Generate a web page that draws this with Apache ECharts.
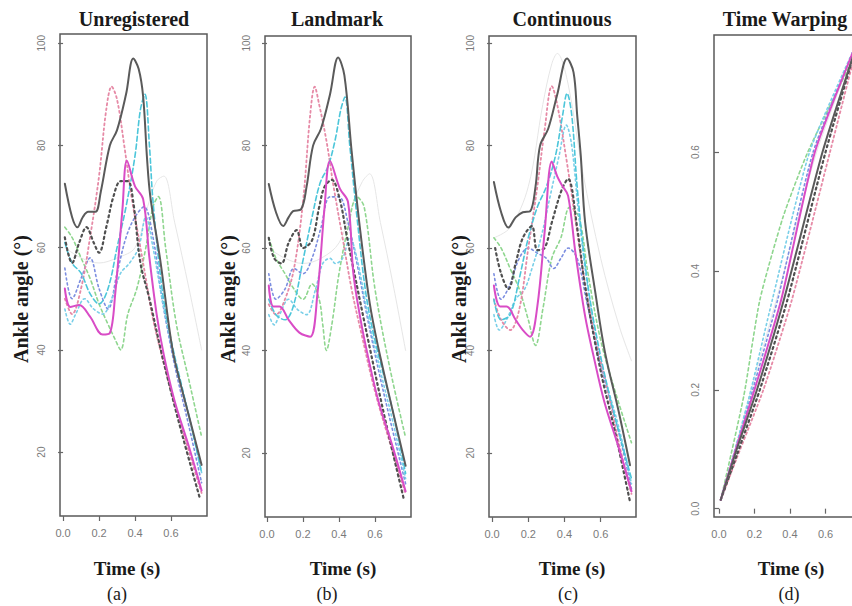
<!DOCTYPE html>
<html>
<head>
<meta charset="utf-8">
<script src="https://cdn.jsdelivr.net/npm/echarts@6/dist/echarts.min.js"></script>
<style>html,body{margin:0;padding:0;background:#fff}#c{width:852px;height:606px}</style>
</head>
<body>
<div id="c"></div>
<script>
// ---- tick labels / text ----
const xTicks = [0, 0.2, 0.4, 0.6];
const yTicksAngle = [20, 40, 60, 80, 100];
const yTicksWarp = [0, 0.2, 0.4, 0.6];
const panelTitles = ['Unregistered', 'Landmark', 'Continuous', 'Time Warping'];
const panelLetters = ['(a)', '(b)', '(c)', '(d)'];
const xName = 'Time (s)';
const yName = 'Ankle angle (°)';

// ---- (a) Unregistered : [time, angle] ----
const a_gray = [[0.01,72.5],[0.05,66],[0.08,64],[0.11,66],[0.14,67],[0.18,67],[0.21,71],[0.26,80],[0.3,83],[0.35,90],[0.39,97],[0.42,95],[0.445,89.6],[0.467,77.3],[0.485,70],[0.54,57.6],[0.594,43.3],[0.62,38],[0.7,27],[0.77,17.5]];
const a_magenta = [[0.01,52],[0.04,48.4],[0.09,48.8],[0.15,46.5],[0.22,43],[0.26,43.3],[0.29,51],[0.33,67.5],[0.355,77],[0.4,72],[0.445,69.5],[0.48,58],[0.52,47],[0.56,39],[0.62,30],[0.7,21],[0.77,12.5]];
const a_pink = [[0.01,50],[0.05,47],[0.1,52],[0.15,62],[0.2,74],[0.24,87],[0.27,91.5],[0.3,89],[0.34,80],[0.38,70],[0.42,62],[0.46,54],[0.5,46],[0.6,32],[0.7,20],[0.77,12]];
const a_cyanDash = [[0.01,61],[0.05,57],[0.1,55],[0.15,51],[0.2,49],[0.25,52],[0.3,60],[0.35,68],[0.4,78],[0.43,87],[0.455,90],[0.48,80],[0.5,69],[0.55,52],[0.6,42],[0.7,27],[0.77,16]];
const a_darkDot = [[0.01,62],[0.05,57],[0.09,61],[0.13,64],[0.17,61],[0.2,59],[0.24,64],[0.28,70],[0.32,73],[0.36,73],[0.39,69],[0.43,57],[0.48,50],[0.55,39],[0.65,25],[0.76,11]];
const a_green = [[0.01,64],[0.05,62],[0.1,58],[0.15,54],[0.2,49],[0.25,45],[0.29,42],[0.32,40],[0.36,47],[0.41,52],[0.46,60],[0.5,68],[0.53,70],[0.57,60],[0.63,45],[0.7,34],[0.77,23]];
const a_light = [[0.01,60],[0.1,58],[0.2,57],[0.3,58],[0.4,60],[0.47,68],[0.52,73],[0.56,74],[0.62,65],[0.7,52],[0.77,40]];
const a_cyanDot = [[0.01,48],[0.04,45],[0.07,47],[0.12,50],[0.17,48],[0.22,47],[0.27,50],[0.32,55],[0.37,57],[0.42,60],[0.46,66],[0.5,60],[0.55,50],[0.62,38],[0.7,27],[0.77,16]];
const a_blueDot = [[0.01,56],[0.05,50],[0.1,54],[0.15,58],[0.2,52],[0.25,48],[0.3,55],[0.35,62],[0.4,66],[0.45,68],[0.5,62],[0.55,50],[0.62,37],[0.7,25],[0.77,14]];

// ---- (b) Landmark ----
const b_gray = [[0.01,72.5],[0.05,67],[0.09,64.3],[0.12,66],[0.145,67.2],[0.19,67.6],[0.22,72],[0.256,80],[0.3,83.3],[0.35,90],[0.395,97.2],[0.43,93.7],[0.47,79],[0.515,64.3],[0.57,49.4],[0.617,40.8],[0.7,28],[0.77,17.5]];
const b_magenta = [[0.01,52.7],[0.035,48.6],[0.07,48.6],[0.12,46],[0.18,43.5],[0.24,42.7],[0.28,51],[0.32,68],[0.35,77],[0.405,71.6],[0.45,69],[0.48,55],[0.52,46],[0.56,39],[0.62,30],[0.7,21],[0.77,12.5]];
const b_pink = [[0.01,49],[0.05,47],[0.1,50],[0.15,56],[0.2,69],[0.24,86],[0.265,91.5],[0.29,88],[0.33,81],[0.37,72],[0.42,62],[0.47,52],[0.52,44],[0.6,32],[0.7,20],[0.77,12]];
const b_cyanDash = [[0.01,50],[0.05,47],[0.1,46],[0.145,48.5],[0.2,57.6],[0.25,66],[0.295,72.7],[0.34,76],[0.378,81],[0.41,87],[0.433,89.5],[0.46,80],[0.5,66],[0.55,51],[0.6,42],[0.7,28],[0.77,16]];
const b_darkDot = [[0.01,62],[0.04,58],[0.08,57],[0.12,61],[0.165,63.5],[0.2,60],[0.25,61.5],[0.29,68],[0.32,72],[0.36,73.3],[0.405,69.4],[0.44,63],[0.48,56],[0.57,40.7],[0.66,26],[0.76,11]];
const b_green = [[0.01,62],[0.05,58],[0.1,55],[0.15,52],[0.2,50],[0.25,53],[0.29,50],[0.31,45],[0.33,40],[0.36,45],[0.4,55],[0.45,64],[0.5,70],[0.54,68],[0.6,52],[0.68,37],[0.77,23]];
const b_light = [[0.01,60],[0.1,58],[0.2,57],[0.3,58],[0.4,61],[0.47,68],[0.53,73],[0.57,74.5],[0.63,65],[0.7,53],[0.77,40]];
const b_cyanDot = [[0.01,47],[0.04,45],[0.07,47],[0.12,50],[0.17,48],[0.22,47],[0.27,52],[0.31,57],[0.35,58],[0.38,57],[0.42,58],[0.46,62],[0.5,58],[0.56,47],[0.63,36],[0.7,26],[0.77,15]];
const b_blueDot = [[0.01,55],[0.05,50],[0.1,52],[0.15,56],[0.2,55],[0.25,58],[0.3,64],[0.35,70],[0.4,70],[0.45,65],[0.5,57],[0.56,46],[0.64,33],[0.77,14]];

// ---- (c) Continuous ----
const c_gray = [[0.01,72.9],[0.05,67],[0.09,64],[0.13,66],[0.17,67],[0.21,67.2],[0.24,72],[0.265,80],[0.31,83.3],[0.36,90],[0.414,97],[0.45,94.3],[0.47,86],[0.49,78],[0.514,65],[0.57,51.4],[0.624,39.6],[0.7,28],[0.762,17.6]];
const c_magenta = [[0.01,52.7],[0.044,48.6],[0.08,48.6],[0.13,46],[0.17,44],[0.21,42.7],[0.25,48.6],[0.29,63],[0.33,76.9],[0.36,74],[0.387,72.2],[0.42,70.2],[0.46,59.2],[0.514,46.7],[0.56,39],[0.62,30],[0.7,21],[0.77,12.5]];
const c_pink = [[0.01,50],[0.05,46],[0.1,44],[0.15,48],[0.2,60],[0.25,72],[0.29,83],[0.33,91.6],[0.36,88],[0.41,77.5],[0.45,68],[0.5,56],[0.56,44],[0.64,32],[0.7,22],[0.77,12]];
const c_cyanDash = [[0.01,50],[0.05,46],[0.1,47],[0.15,54],[0.2,62],[0.25,68],[0.3,72],[0.35,78],[0.39,86],[0.414,90.2],[0.44,86],[0.47,72],[0.51,58],[0.56,46],[0.65,31],[0.77,15]];
const c_darkDot = [[0.017,60],[0.05,55],[0.09,52],[0.13,57],[0.17,62],[0.22,64.3],[0.25,59.6],[0.29,60],[0.33,65],[0.387,71.6],[0.42,73.5],[0.47,64],[0.514,52.5],[0.6,36],[0.68,24],[0.76,10.8]];
const c_green = [[0.01,62],[0.05,60],[0.1,56],[0.15,52],[0.2,46],[0.24,41],[0.28,48],[0.33,58],[0.38,62],[0.43,68],[0.48,66],[0.53,55],[0.6,42],[0.68,32],[0.77,22]];
const c_light = [[0.01,62],[0.1,64],[0.2,72],[0.28,88],[0.33,96],[0.36,98],[0.42,92],[0.5,75],[0.6,58],[0.7,45],[0.77,38]];
const c_cyanDot = [[0.01,47],[0.04,44],[0.08,46],[0.13,50],[0.18,52],[0.22,56],[0.27,62],[0.32,70],[0.37,78],[0.41,84],[0.44,80],[0.48,66],[0.53,52],[0.6,38],[0.7,25],[0.77,14]];
const c_blueDot = [[0.01,55],[0.05,50],[0.1,53],[0.15,58],[0.2,60],[0.25,59],[0.3,58],[0.34,56],[0.38,58],[0.42,60],[0.47,58],[0.52,50],[0.6,37],[0.7,24],[0.77,13]];

// ---- (d) Time warping functions : [time, warped time] ----
const d_gray = [[0.01,0.015],[0.1,0.1],[0.214,0.2],[0.365,0.351],[0.583,0.6],[0.77,0.775]];
const d_magenta = [[0.01,0.015],[0.1,0.105],[0.2,0.2],[0.35,0.351],[0.54,0.6],[0.77,0.78]];
const d_green = [[0.01,0.015],[0.14,0.19],[0.23,0.351],[0.36,0.49],[0.5,0.6],[0.75,0.755],[0.77,0.775]];
const d_cyanDot = [[0.01,0.015],[0.1,0.11],[0.18,0.2],[0.3,0.351],[0.51,0.6],[0.77,0.78]];
const d_darkDot = [[0.01,0.015],[0.1,0.09],[0.23,0.2],[0.385,0.351],[0.6,0.6],[0.77,0.775]];
const d_pink = [[0.01,0.015],[0.1,0.085],[0.25,0.2],[0.41,0.351],[0.625,0.6],[0.77,0.77]];
const d_blueDot = [[0.01,0.015],[0.1,0.108],[0.19,0.2],[0.33,0.351],[0.53,0.6],[0.77,0.78]];
const d_light = [[0.01,0.015],[0.1,0.11],[0.2,0.22],[0.34,0.37],[0.55,0.6],[0.77,0.78]];

// ---- styles ----
const STY = {
  light:    {color:'#e6e6e6', width:1, type:'solid'},
  green:    {color:'#8fd68f', width:1.6, type:[3,3]},
  blueDot:  {color:'#7c8ee0', width:1.6, type:[2,3]},
  cyanDot:  {color:'#79cfe8', width:1.6, type:[2,3]},
  pink:     {color:'#e68aa6', width:1.8, type:[2,3]},
  cyanDash: {color:'#4cc6da', width:1.6, type:[5,3]},
  darkDot:  {color:'#505050', width:2.2, type:[2,3.5]},
  magenta:  {color:'#d94cc6', width:2, type:'solid'},
  gray:     {color:'#5a5a5a', width:2, type:'solid'}
};
const order = ['light','green','blueDot','cyanDot','pink','cyanDash','darkDot','magenta','gray'];
const panels = [
  {light:a_light, green:a_green, blueDot:a_blueDot, cyanDot:a_cyanDot, pink:a_pink, cyanDash:a_cyanDash, darkDot:a_darkDot, magenta:a_magenta, gray:a_gray},
  {light:b_light, green:b_green, blueDot:b_blueDot, cyanDot:b_cyanDot, pink:b_pink, cyanDash:b_cyanDash, darkDot:b_darkDot, magenta:b_magenta, gray:b_gray},
  {light:c_light, green:c_green, blueDot:c_blueDot, cyanDot:c_cyanDot, pink:c_pink, cyanDash:c_cyanDash, darkDot:c_darkDot, magenta:c_magenta, gray:c_gray},
  {light:d_light, green:d_green, blueDot:d_blueDot, cyanDot:d_cyanDot, pink:d_pink, darkDot:d_darkDot, magenta:d_magenta, gray:d_gray}
];
const smoothness = [0.35, 0.35, 0.35, 0.2];

const grids = [
  {left:60, top:34, width:147, height:482},
  {left:265, top:36, width:146, height:481},
  {left:489, top:36, width:147, height:481},
  {left:714, top:35, width:138, height:482}
];
const xRanges = [[-0.017,0.8],[-0.011,0.8],[-0.017,0.795],[-0.028,0.749]];
const yRanges = [[7.5,101.8],[7.5,101.4],[7.5,101.4],[-0.014,0.797]];

const serif = '"Liberation Serif", "Times New Roman", serif';
const sans = '"Liberation Sans", Arial, sans-serif';
const BOX = '#5a5a5a';

const option = {
  animation: false,
  backgroundColor: '#fff',
  grid: grids.map((g, i) => Object.assign({show: i < 3, borderColor:BOX, borderWidth:1.5, backgroundColor:'transparent', containLabel:false}, g)),
  xAxis: grids.map((g,i) => ({
    type:'value', gridIndex:i, min:xRanges[i][0], max:xRanges[i][1],
    axisLine:{show:false}, splitLine:{show:false},
    axisTick:{show:true, length:5, lineStyle:{color:'#666', width:1.2}, customValues:xTicks},
    axisLabel:{show:true, customValues:xTicks, formatter:v=>v.toFixed(1), color:'#7a7a7a', fontSize:11, fontFamily:sans, margin:11, showMinLabel:true, showMaxLabel:true}
  })),
  yAxis: grids.map((g,i) => {
    const t = i < 3 ? yTicksAngle : yTicksWarp;
    return {
      type:'value', gridIndex:i, min:yRanges[i][0], max:yRanges[i][1],
      axisLine:{show:false}, splitLine:{show:false},
      axisTick:{show:true, length:5, lineStyle:{color:'#666', width:1.2}, customValues:t},
      axisLabel:{show:true, customValues:t, rotate:90, formatter: v => i < 3 ? String(Math.round(v)) : v.toFixed(1), color:'#7a7a7a', fontSize:10, fontFamily:sans, margin:14}
    };
  }),
  series: [],
  graphic: []
};

panels.forEach((p, i) => {
  order.forEach(k => {
    if (!p[k]) return;
    const s = STY[k];
    option.series.push({
      type:'line', xAxisIndex:i, yAxisIndex:i, data:p[k], smooth:smoothness[i],
      showSymbol:false, symbol:'none', silent:true, clip:true,
      lineStyle:{color:s.color, width:s.width, type:s.type, cap:'round'}
    });
  });
});

const titleX = [134, 337, 562, 785];
const timeX = [127, 343, 572, 791];
const letterX = [117, 327, 568, 789];
const yNameX = [21, 228, 459];
function txt(text, x, y, font, fill, rot) {
  return {type:'text', x:x, y:y, rotation:rot||0, silent:true,
    style:{text:text, font:font, fill:fill, textAlign:'center', textVerticalAlign:'middle', align:'center', verticalAlign:'middle'}};
}
for (let i = 0; i < 4; i++) {
  option.graphic.push(txt(panelTitles[i], titleX[i], 19, 'bold 20px ' + serif, '#1a1a1a'));
  option.graphic.push(txt(xName, timeX[i], 568, 'bold 19px ' + serif, '#1a1a1a'));
  option.graphic.push(txt(panelLetters[i], letterX[i], 594, '18px ' + serif, '#1a1a1a'));
  if (i < 3) option.graphic.push(txt(yName, yNameX[i], 299, 'bold 20px ' + serif, '#1a1a1a', Math.PI/2));
}
// panel (d) frame: its right side lies beyond the picture edge
option.graphic.push({type:'polyline', silent:true, shape:{points:[[870,35],[714,35],[714,517],[870,517]]}, style:{stroke:BOX, lineWidth:1.5, fill:null}});

const chart = echarts.init(document.getElementById('c'), null, {renderer:'svg'});
chart.setOption(option);
</script>
</body>
</html>
